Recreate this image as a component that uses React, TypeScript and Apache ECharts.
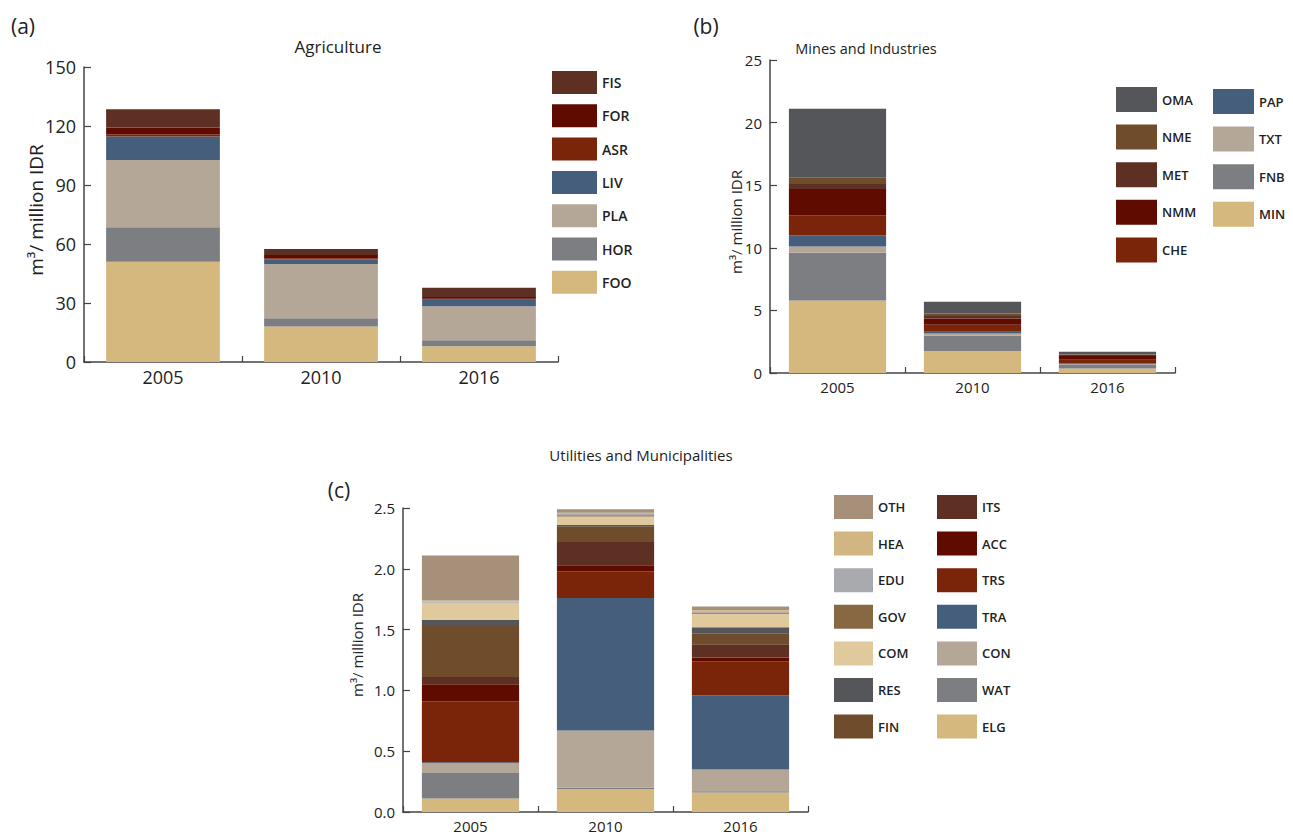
import { useEffect, useRef } from "react";
import * as echarts from "echarts";

const years = ["2005", "2010", "2016"];

// (a) Agriculture, m3 / million IDR
const FOO = [51, 18, 8];
const HOR = [17.5, 4.2, 3];
const PLA = [34.2, 27.6, 17.3];
const LIV = [12, 2.4, 3.4];
const ASR = [1, 0.6, 0.4];
const FOR = [3.5, 1.6, 1.0];
const FIS = [9.3, 3, 4.6];

// (b) Mines and Industries
const MIN = [5.8, 1.75, 0.35];
const FNB = [3.8, 1.25, 0.3];
const TXT = [0.5, 0.15, 0.05];
const PAP = [0.9, 0.15, 0.05];
const CHE = [1.6, 0.55, 0.3];
const NMM = [2.1, 0.5, 0.3];
const MET = [0.4, 0.2, 0.1];
const NME = [0.5, 0.2, 0.05];
const OMA = [5.5, 0.95, 0.2];

// (c) Utilities and Municipalities
const ELG = [0.11, 0.19, 0.16];
const WAT = [0.21, 0.01, 0.01];
const CON = [0.08, 0.47, 0.18];
const TRA = [0.01, 1.09, 0.61];
const TRS = [0.5, 0.22, 0.28];
const ACC = [0.14, 0.05, 0.03];
const ITS = [0.06, 0.19, 0.11];
const FIN = [0.42, 0.13, 0.09];
const RES = [0.05, 0.01, 0.05];
const COM = [0.14, 0.07, 0.11];
const GOV = [0.0, 0.01, 0.01];
const EDU = [0.01, 0.01, 0.01];
const HEA = [0.01, 0.01, 0.01];
const OTH = [0.37, 0.03, 0.03];

const aTicks = [0, 150, 30];
const bTicks = [0, 25, 5];
const cTicks = [0, 2.5, 0.5];

const C = {
  tan: "#d4b87e",
  gray: "#7d7e82",
  beige: "#b4a797",
  blue: "#445e7c",
  red: "#7a2409",
  darkred: "#5f0b00",
  brownred: "#5e3024",
  charcoal: "#555659",
  brown: "#6f4c2b",
  gov: "#886743",
  oth: "#a69079",
  hea: "#d1b582",
  edu: "#a9aaae",
  com: "#e0c99d",
};

const FONT = "'Open Sans', 'Noto Sans', sans-serif";

export default function App() {
  const ref = useRef<HTMLDivElement>(null);

  useEffect(() => {
    document.body.style.margin = "0";
    const chart = echarts.init(ref.current!, null, { renderer: "svg" });

    const panelA = [
      { name: "FOO", data: FOO, color: C.tan },
      { name: "HOR", data: HOR, color: C.gray },
      { name: "PLA", data: PLA, color: C.beige },
      { name: "LIV", data: LIV, color: C.blue },
      { name: "ASR", data: ASR, color: C.red },
      { name: "FOR", data: FOR, color: C.darkred },
      { name: "FIS", data: FIS, color: C.brownred },
    ];
    const panelB = [
      { name: "MIN", data: MIN, color: C.tan },
      { name: "FNB", data: FNB, color: C.gray },
      { name: "TXT", data: TXT, color: C.beige },
      { name: "PAP", data: PAP, color: C.blue },
      { name: "CHE", data: CHE, color: C.red },
      { name: "NMM", data: NMM, color: C.darkred },
      { name: "MET", data: MET, color: C.brownred },
      { name: "NME", data: NME, color: C.brown },
      { name: "OMA", data: OMA, color: C.charcoal },
    ];
    const panelC = [
      { name: "ELG", data: ELG, color: C.tan },
      { name: "WAT", data: WAT, color: C.gray },
      { name: "CON", data: CON, color: C.beige },
      { name: "TRA", data: TRA, color: C.blue },
      { name: "TRS", data: TRS, color: C.red },
      { name: "ACC", data: ACC, color: C.darkred },
      { name: "ITS", data: ITS, color: C.brownred },
      { name: "FIN", data: FIN, color: C.brown },
      { name: "RES", data: RES, color: C.charcoal },
      { name: "COM", data: COM, color: C.com },
      { name: "GOV", data: GOV, color: C.gov },
      { name: "EDU", data: EDU, color: C.edu },
      { name: "HEA", data: HEA, color: C.hea },
      { name: "OTH", data: OTH, color: C.oth },
    ];

    const mk = (list: any[], idx: number) =>
      list.map((s) => ({
        type: "bar",
        name: s.name,
        data: s.data,
        stack: "p" + idx,
        xAxisIndex: idx,
        yAxisIndex: idx,
        barWidth: "72%",
        itemStyle: { color: s.color },
        emphasis: { disabled: true },
      }));

    const axisLine = { show: true, lineStyle: { color: "#444", width: 1.5 } };

    const xAxis = (idx: number, fs: number) => ({
      type: "category",
      gridIndex: idx,
      data: years,
      axisLine,
      axisTick: { show: true, inside: true, length: 6, lineStyle: { color: "#444", width: 1.2 } },
      axisLabel: { fontSize: fs, color: "#222", fontFamily: FONT, margin: 6 },
      splitLine: { show: false },
    });
    const yAxis = (idx: number, t: number[], fs: number, dec: boolean) => ({
      type: "value",
      gridIndex: idx,
      min: t[0],
      max: t[1],
      interval: t[2],
      axisLine,
      axisTick: { show: true, inside: true, length: 7, lineStyle: { color: "#444", width: 1.2 } },
      axisLabel: {
        fontSize: fs,
        color: "#222",
        fontFamily: FONT,
        margin: 8,
        formatter: dec ? (v: number) => v.toFixed(1) : (v: number) => String(v),
      },
      splitLine: { show: false },
    });

    const legend = (data: string[], left: number, top: number, w: number, h: number, gap: number, fs: number) => ({
      data,
      orient: "vertical",
      left,
      top,
      padding: 0,
      itemWidth: w,
      itemHeight: h,
      itemGap: gap,
      icon: "rect",
      selectedMode: false,
      textStyle: { fontSize: fs, fontFamily: FONT, fontWeight: 600, color: "#222" },
    });

    const txt = (text: string, x: number, y: number, fs: number, rot = 0) => ({
      type: "text",
      x,
      y,
      rotation: rot,
      style: {
        text,
        fontSize: fs,
        fontFamily: FONT,
        fill: "#222",
        align: "center",
        verticalAlign: "middle",
      },
    });

    chart.setOption({
      animation: false,
      grid: [
        { left: 84, top: 67, width: 474, height: 295 },
        { left: 770, top: 60, width: 405, height: 313 },
        { left: 403, top: 508, width: 405, height: 304 },
      ],
      xAxis: [xAxis(0, 18), xAxis(1, 15), xAxis(2, 15)],
      yAxis: [yAxis(0, aTicks, 18, false), yAxis(1, bTicks, 15, false), yAxis(2, cTicks, 15, true)],
      legend: [
        legend(["FIS", "FOR", "ASR", "LIV", "PLA", "HOR", "FOO"], 552, 71, 45, 23, 10.3, 14),
        legend(["OMA", "NME", "MET", "NMM", "CHE"], 1116, 87, 41, 25, 12.6, 13),
        legend(["PAP", "TXT", "FNB", "MIN"], 1213, 89, 41, 25, 12.6, 13),
        legend(["OTH", "HEA", "EDU", "GOV", "COM", "RES", "FIN"], 834, 495, 39, 24, 12.6, 13),
        legend(["ITS", "ACC", "TRS", "TRA", "CON", "WAT", "ELG"], 937, 495, 40, 24, 12.6, 13),
      ],
      graphic: [
        txt("(a)", 23, 26, 21),
        txt("(b)", 706, 26, 21),
        txt("(c)", 339, 490, 21),
        txt("Agriculture", 338, 46, 17),
        txt("Mines and Industries", 866, 48, 14.5),
        txt("Utilities and Municipalities", 641, 455, 15),
        txt("m³/ million IDR", 36, 210, 19, Math.PI / 2),
        txt("m³/ million IDR", 736, 222, 15, Math.PI / 2),
        txt("m³/ million IDR", 357, 645, 15, Math.PI / 2),
      ],
      series: [...mk(panelA, 0), ...mk(panelB, 1), ...mk(panelC, 2)],
    });

    return () => chart.dispose();
  }, []);

  return <div ref={ref} style={{ width: 1293, height: 837 }} />;
}
